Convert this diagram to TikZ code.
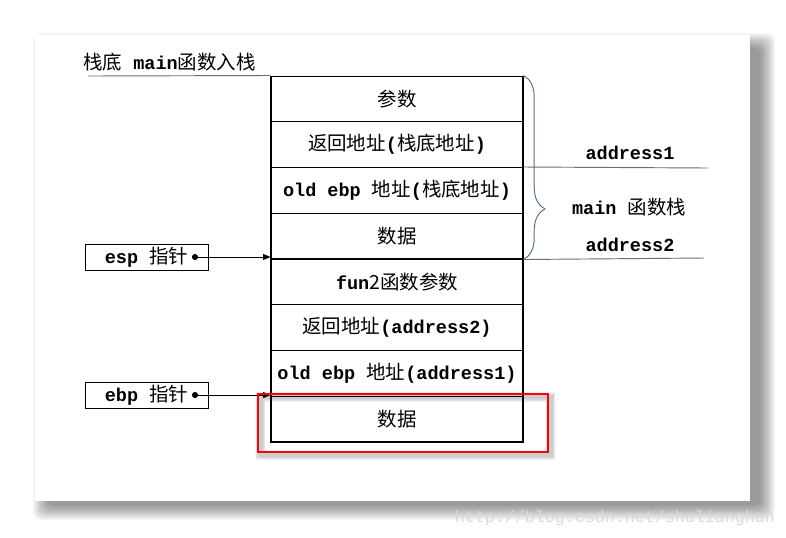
\documentclass[tikz,border=0pt]{standalone}
\usepackage{fontspec}
\setmainfont{Liberation Mono}
\newfontfamily\cjk[Scale=1.05]{Noto Sans CJK SC}
\usetikzlibrary{arrows.meta, decorations.pathreplacing}
\newcommand{\zh}[1]{{\cjk\mdseries #1}}
\definecolor{bracecol}{RGB}{79,107,149}
\definecolor{linegray}{RGB}{110,110,110}

\begin{document}
\begin{tikzpicture}[x=0.75pt, y=-0.75pt, >={Triangle[length=5.5pt, width=4.5pt]},
  font=\fontsize{13.9}{16}\selectfont\bfseries,
  cell/.style={draw, line width=0.8pt, minimum width=189pt, minimum height=34.3pt, inner sep=0pt},
  ptrbox/.style={draw, line width=0.6pt, minimum width=92.25pt, minimum height=19.5pt, inner sep=0pt},
  guide/.style={linegray, line width=0.7pt},
  addr/.style={inner sep=1pt}]
  \useasboundingbox (0,0) rectangle (786,537);

  % Page and its shadow
  \foreach \s in {0,...,15}
    \fill[black, opacity=0.03, rounded corners=6pt]
      ({48-\s},{48-\s}) rectangle ({760+\s},{505+\s});
  \fill[white] (35,35) rectangle (750,501);

  % Stack cells
  \node[cell] (params)  at (397,98.9)  {\zh{参数}};
  \node[cell] (ret1)    at (397,144.6) {\zh{返回地址}(\zh{栈底地址})};
  \node[cell] (oldebp1) at (397,190.4) {old ebp \zh{地址}(\zh{栈底地址})};
  \node[cell] (data1)   at (397,236.1) {\zh{数据}};
  \node[cell] (fun2par) at (397,281.9) {fun\zh{2函数参数}};
  \node[cell] (ret2)    at (397,327.6) {\zh{返回地址}(address2)};
  \node[cell] (oldebp2) at (397,373.4) {old ebp \zh{地址}(address1)};
  \node[cell] (data2)   at (397,419.1) {\zh{数据}};

  % Stack bottom
  \node[anchor=west, inner sep=0pt] (bottomlbl) at (83,62) {\zh{栈底} main\zh{函数入栈}};
  \coordinate (bottomstart) at (88,76);
  \draw[guide] (bottomstart) -- (params.north west);

  % main frame brace and addresses
  \draw[bracecol, line width=0.7pt, decorate, decoration={brace, amplitude=16pt, aspect=0.725}]
    (params.north east) -- (data1.south east);
  \coordinate (addr1end) at (708,168);
  \coordinate (addr2end) at (704,258);
  \draw[guide] (oldebp1.north east) -- (addr1end);
  \draw[guide] (data1.south east) -- (addr2end);
  \node[addr] (addr1) at (630,153) {address1};
  \node[addr] (mainstk) at (629,207) {main \zh{函数栈}};
  \node[addr] (addr2) at (630,245) {address2};

  % Pointers
  \node[ptrbox] (esp) at (146.5,257) {esp \zh{指针}\hspace{9pt}};
  \node[ptrbox] (ebp) at (146.5,395) {ebp \zh{指针}\hspace{9pt}};
  \coordinate (espdot) at (195,257);
  \coordinate (ebpdot) at (195,395);
  \fill (espdot) circle (2.3pt);
  \fill (ebpdot) circle (2.3pt);
  \draw[->, line width=0.6pt] (espdot) -- (espdot -| data1.south west);
  \draw[->, line width=0.6pt] (ebpdot) -- (ebpdot -| oldebp2.south west);

  % Current frame highlight
  \foreach \s in {1,...,4}
    \draw[black, opacity=0.05, line width={(2.2+\s*1.3)*1pt}] (260.5,397) rectangle (550.5,455);
  \draw[red, line width=2.2pt] (258,394) rectangle (548,452);

  % Watermark
  \node[font=\fontsize{12.5}{14}\selectfont\mdseries, text=gray!30, inner sep=0pt] (mark) at (615,518)
    {http://blog.csdn.net/shulianghan};
\end{tikzpicture}
\end{document}
